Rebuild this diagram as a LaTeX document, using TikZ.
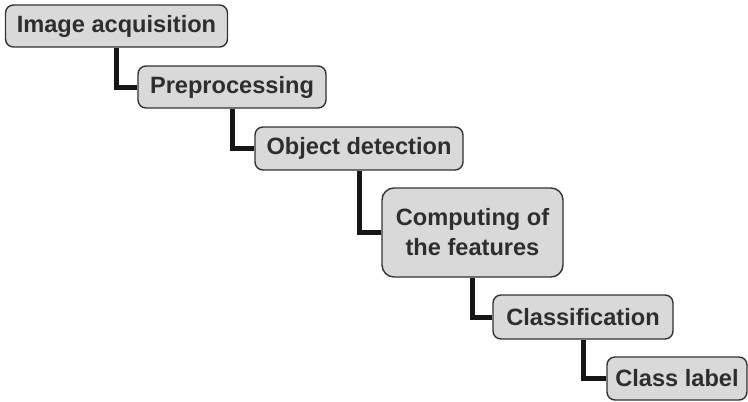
\documentclass[tikz,border=0pt]{standalone}
\usepackage{fontspec}
\setmainfont{Liberation Sans}
\definecolor{boxfill}{HTML}{D9D9D9}
\definecolor{boxline}{HTML}{333333}
\definecolor{txt}{HTML}{2E2E2E}
\definecolor{conn}{HTML}{161616}
\begin{document}
\begin{tikzpicture}[x=1pt,y=-1pt,
  stage/.style={draw=boxline, line width=1.4pt, fill=boxfill, rounded corners=8pt,
    text=txt, font=\fontsize{23.6}{30}\selectfont\bfseries, inner sep=0pt, align=center},
  link/.style={draw=conn, line width=5pt}]
\useasboundingbox (0,0) rectangle (748,402);
\node[stage, minimum width=222pt, minimum height=42pt] (b1) at (116.5,26) {Image acquisition};
\node[stage, minimum width=188pt, minimum height=42pt] (b2) at (232,87) {Preprocessing};
\node[stage, minimum width=208pt, minimum height=43pt] (b3) at (359,148.5) {Object detection};
\node[stage, minimum width=181pt, minimum height=89pt, rounded corners=12pt] (b4) at (472.5,232.5) {Computing of\\the features};
\node[stage, minimum width=180pt, minimum height=44pt] (b5) at (583,317) {Classification};
\node[stage, minimum width=140pt, minimum height=43pt] (b6) at (677,378.5) {Class label};
\draw[link] (b1.south) |- (b2.west);
\draw[link] (b2.south) |- (b3.west);
\draw[link] (b3.south) |- (b4.west);
\draw[link] (b4.south) |- (b5.west);
\draw[link] (b5.south) |- (b6.west);
\end{tikzpicture}
\end{document}
